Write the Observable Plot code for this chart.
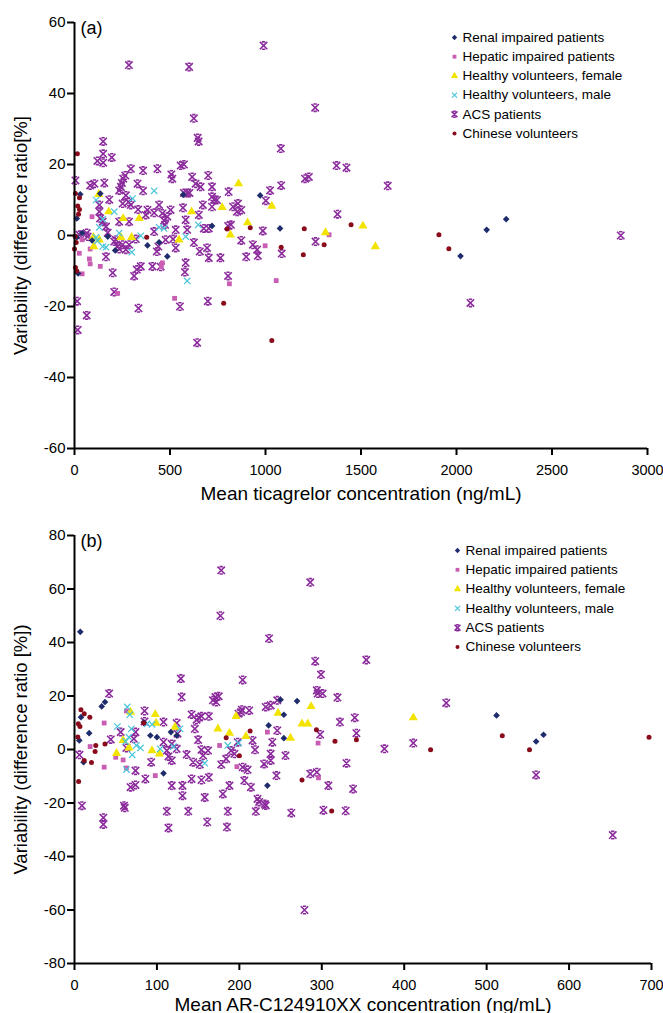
<!DOCTYPE html>
<html><head><meta charset="utf-8">
<script src="https://cdn.jsdelivr.net/npm/d3@7"></script>
<script src="https://cdn.jsdelivr.net/npm/@observablehq/plot@0.6"></script>
<style>body{margin:0;background:#fff;} #chart{width:663px;} svg{display:block;}</style>
</head><body><div id="chart"></div>
<script>
// ---------- Panel (a): mean ticagrelor concentration vs variability ----------
const renalA = [[30,11.6],[12,4.8],[40,0.7],[12,-0.5],[135,11.8],[174,-0.3],[92,-1.4],[213,-4.2],[382,-2.8],[443,-1.9],[486,-5.9],[720,2.7],[972,11.3],[1076,2],[569,11.5],[19,-10.7],[2021,-5.8],[2158,1.6],[2260,4.6]];
const hepaticA = [[92,5.3],[82,-3.8],[78,-6.6],[82,-8],[40,-10.8],[40,-1.2],[135,-8.7],[226,-16.3],[460,-7.7],[455,-8.8],[524,-17.7],[811,-13.6],[1056,-12.7],[1333,0.2],[998,-2.9],[25,-5]];
const femaleA = [[127,11.6],[179,6.7],[255,4.8],[339,4.8],[99,-0.5],[101,-3.1],[130,-1.2],[243,-0.5],[299,-0.5],[547,-1.2],[613,6.7],[773,7.9],[859,14.6],[816,0.2],[906,3.6],[1033,8.3],[1314,0.8],[1510,2.7],[1575,-3.1]];
const maleA = [[113,10],[130,2.3],[208,6.7],[148,4.6],[113,-0.5],[148,-3.1],[165,-3.3],[234,0.7],[300,-4.7],[304,10.4],[347,-0.1],[417,12.6],[443,2.3],[469,2],[582,-0.3],[648,3],[590,-12.8],[120,-1.5]];
const acsA = [[285,48],[600,47.5],[990,53.5],[625,33],[645,27.5],[650,26.5],[1260,36],[1080,24.5],[150,26.5],[120,21],[150,20.5],[150,23],[195,22],
[1227,16.5],[1207,16],[1372,19.7],[1424,19.1],[1640,14],[1377,6],[2860,0],[2073,-19],
[5,15.5],[82,14.1],[104,14.6],[156,14.8],[182,10.1],[130,8.6],[130,6.7],[134,4.8],[148,3.9],[165,2.5],[174,0.8],[64,0.7],[26,0.2],[69,-0.3],[165,-6],[200,-10.5],[208,-1.7],[217,-1.2],[226,-3.1],[252,-2.6],[234,-3.8],[269,-4],[286,-2.6],[208,-15.9],[335,-20.5],[312,-11.4],[326,-9.6],[347,-8.7],[408,-8.7],[451,-8.8],[431,-4.5],[439,-3.1],[477,-1.2],[516,-1],[530,-3.5],[582,-7.7],[578,-10.3],[552,-20],[625,-2],[656,-4.5],[703,-6.3],[694,-3.5],[764,-6.3],[804,-11.4],[819,3],[873,-1.4],[899,-6],[934,-2.6],[956,-4],[960,-5.7],[986,1.3],[1002,9.8],[1024,12.7],[1082,14.1],[1085,-5.1],[1262,-1.7],[698,-18.5],[14,-18.5],[17,-26.6],[64,-22.5],[642,-30.2],
[295,18.8],[255,16],[266,16.9],[248,14.8],[243,13.7],[234,12.7],[269,11.3],[283,9.5],[252,9],[295,8.6],[330,14.6],[359,18.3],[359,12.6],[382,7.2],[417,6.4],[443,8.6],[434,18.8],[460,6.2],[469,4.2],[474,3],[486,5.3],[503,7.2],[530,1.6],[507,17.2],[512,16],[556,19.7],[573,20],[573,12],[590,12],[602,12],[616,16.5],[634,14.6],[660,13.7],[700,16.9],[720,13.7],[720,10.9],[733,10.1],[746,10],[720,8.1],[672,8.6],[651,5.8],[677,2],[703,2],[568,7.8],[582,4.4],[590,1.6],[807,12.3],[830,8.1],[851,6.7],[873,7.2],[856,9],[804,2.7],[417,1.1],[373,5.8],[333,7.3],[234,3.9],[286,3.9],[321,-1]];
const chineseA = [[15,23],[5,11.8],[26,10.6],[17,8.3],[26,7.3],[21,6],[3.5,-0.3],[9,-2],[0,-3.8],[12,-10],[5,-9],[378,-0.5],[799,1.8],[920,2.2],[1203,1.9],[1082,-3.3],[1198,-5.4],[1307,-2.6],[1448,3],[1908,0.2],[1960,-3.7],[781,-19.1],[1033,-29.6]];

// ---------- Panel (b): mean AR-C124910XX concentration vs variability ----------
const renalB = [[7,44],[7.9,12.1],[5.8,3.4],[11,-4.75],[17.8,6.1],[33,16.1],[37,17.75],[84,10.2],[92,5.25],[100,4.6],[108,-8.9],[117,6.5],[124,5.25],[235.5,9],[234,-13.5],[250,18.6],[254,13],[254,4.25],[270,18.1],[512,12.75],[569,5.5],[560,3]];
const hepaticB = [[36,9.9],[63,14.4],[19,1.1],[36,-6.6],[50,-2.9],[59,-3.9],[63,-6.9],[98,-9.75],[234,6.5],[176,1.5],[197,-6.4],[295.5,2.4],[296,-10.6]];
const femaleB = [[51,-1.4],[59,3.4],[66,0.6],[68,14],[98,13.1],[99,9.9],[94,-0.4],[103,-1.6],[122,8.4],[174,7.75],[188,6.1],[196,12.4],[208,4.9],[247,13.6],[262,4.25],[276,9.6],[283,9.6],[287,16.1],[411,11.9]];
const maleB = [[52,8.6],[64,15.9],[67,13],[69,7.75],[62,3],[66,4.6],[70,-2],[75,1.5],[80,0.6],[88,9.6],[94,9.4],[104,0.25],[63,-7.5],[120,1.1],[128,7.75],[158,-5.1],[186,1.5],[199,2.4]];
const acsB = [[178,67],[177,50],[286,62.5],[236,41.5],[292,33],[354,33.5],[299,28],[129,26.5],[204,26],
[9,-21],[35,-25.5],[35,-28],[60,-21],[61,-21.8],[112,-23.1],[114,-29.3],[138,-23.1],[161,-27.1],[186,-23.1],[185,-29],[220,-23.1],[224,-19.6],[232,-20.9],[263,-23.7],[302,-22.7],[329,-22.9],[279,-60],[653,-32],
[42,20.9],[44,3.75],[56,6.5],[63,0.6],[72,4],[74,6.5],[85,14.4],[85,10.5],[74,-7.9],[68,-14.1],[74,-13.25],[86,-11],[93,-4.75],[108,10.25],[108,2.75],[112,-0.4],[114,-2.6],[118,2.1],[118,-4.1],[124,9.9],[125,5.9],[124,0.25],[130,19.6],[131,-13.5],[131,-17.25],[118,-13.5],[136,-1.9],[142,13.1],[144,-4.75],[146,7.75],[148,11.1],[151,11.9],[154,12.4],[152,-5.6],[150,3.6],[154,-0.1],[156,-2.25],[163,12.4],[162,-0.4],[142,-11],[154,-11.4],[158,-17.9],[163,-10.4],[168,18.4],[171,19.6],[175,19.9],[172,17.75],[178,-5.6],[180,-16.6],[184,-3.5],[188,-13.5],[190,-0.4],[194,-1.6],[198,2.75],[199,13.4],[202,14],[203,14.9],[204,-6.6],[206,-11.6],[210,-7.6],[212,14.6],[214,-14.1],[216,3.4],[219,-0.1],[222,-18.5],[230,-5.4],[231,-20.4],[232,15.9],[238,16.5],[238,-1.6],[238,-4.1],[240,2.75],[245,-9.75],[246,18.4],[246,7.1],[256,-2.25],[286,-9.1],[294,22.1],[295,20.9],[301,20.9],[298,5.6],[308,-13.5],[294,-8.5],[319,19.4],[322,10.25],[330,-5.1],[338,-14.75],[340,11.9],[342,6.1],[6,-2],
[451,17.4],[376,0.25],[411,2.4],[560,-9.5]];
const chineseB = [[4.6,9.6],[7.8,14.9],[11.8,13.4],[6.6,8.6],[18.6,12.1],[25.8,1.5],[25,-0.75],[20.6,-4.9],[11.8,-4.1],[5,-12],[4,4.7],[37,2.1],[84,9.9],[184,4.4],[200,-2.3],[213,6.9],[276,-11.4],[293.5,7.4],[316,3.1],[342,3.6],[312,-23],[432,-0.1],[519,5.1],[552,-0.1],[697,4.6]];

// ---------- Labels / ticks ----------
const seriesNames = ["Renal impaired patients","Hepatic impaired patients","Healthy volunteers, female","Healthy volunteers, male","ACS patients","Chinese volunteers"];
const xTicksA = [0,500,1000,1500,2000,2500,3000];
const yTicksA = [-60,-40,-20,0,20,40,60];
const xTicksB = [0,100,200,300,400,500,600,700];
const yTicksB = [-80,-60,-40,-20,0,20,40,60,80];

// ---------- Styles ----------
const colors = ["#1f2c6c","#c95db3","#f2e300","#49c5da","#8b2a9c","#8a0c1c"];
const acsSymbol = {
  draw(ctx, size) {
    const r = Math.sqrt(size / Math.PI);
    ctx.moveTo(-r, -r); ctx.lineTo(r, r);
    ctx.moveTo(-r, r); ctx.lineTo(r, -r);
    ctx.moveTo(-r * 0.45, -r); ctx.lineTo(r * 0.45, -r);
    ctx.moveTo(-r * 0.45, r); ctx.lineTo(r * 0.45, r);
  }
};
const symbols = ["diamond2","square","triangle","times",acsSymbol,"circle"];
const radii = [3.0, 2.7, 3.4, 3.0, 3.7, 2.5];
const filled = [true, true, true, false, false, true];
const FONT = "'Liberation Sans', Arial, Helvetica, sans-serif";

function dotOpts(i, extra) {
  const o = Object.assign({symbol: symbols[i], r: radii[i]}, extra);
  if (filled[i]) { o.fill = colors[i]; o.stroke = "none"; }
  else { o.fill = "none"; o.stroke = colors[i]; o.strokeWidth = i === 4 ? 1.6 : 1.2; }
  return o;
}

function makePanel(cfg) {
  const marks = [];
  const order = [4, 1, 2, 3, 0, 5];
  for (const i of order) {
    marks.push(Plot.dot(cfg.series[i], dotOpts(i, {x: d => d[0], y: d => d[1]})));
  }
  marks.push(Plot.ruleX([cfg.xDomain[0]], {stroke: "#000", strokeWidth: 2}));
  marks.push(Plot.ruleY([cfg.yDomain[0]], {stroke: "#000", strokeWidth: 2}));
  marks.push(Plot.axisX(cfg.xTicks, {tickSize: 7, tickPadding: 9, strokeWidth: 2, fontSize: 14.5, label: null, tickFormat: d => String(d)}));
  marks.push(Plot.axisY(cfg.yTicks, {tickSize: 7, tickPadding: 2, strokeWidth: 2, fontSize: 15, label: null, tickFormat: d => String(d)}));
  marks.push(Plot.text([cfg.xLabel], {frameAnchor: "bottom", dy: cfg.titleDy, fontSize: 19, text: d => d, textAnchor: "middle", lineAnchor: "middle"}));
  marks.push(Plot.text([cfg.yLabel], {frameAnchor: "left", dx: -53, rotate: -90, fontSize: 18.5, text: d => d, textAnchor: "middle", lineAnchor: "middle"}));
  marks.push(Plot.text([cfg.tag], {frameAnchor: "top-left", dx: 6, dy: 6, fontSize: 18, text: d => d, textAnchor: "start", lineAnchor: "middle"}));
  seriesNames.forEach((name, i) => {
    const dy = cfg.legendDy + i * cfg.legendStep;
    marks.push(Plot.dot([name], dotOpts(i, {frameAnchor: "top-left", dx: cfg.legendDx, dy, r: radii[i] * 0.8})));
    marks.push(Plot.text([name], {frameAnchor: "top-left", dx: cfg.legendDx + 8, dy, text: d => d, textAnchor: "start", lineAnchor: "middle", fontSize: 13.5}));
  });
  return Plot.plot({
    width: 663, height: cfg.height,
    marginLeft: 74, marginRight: cfg.mr, marginTop: cfg.mt, marginBottom: cfg.mb,
    x: {domain: cfg.xDomain}, y: {domain: cfg.yDomain},
    style: {fontFamily: FONT, color: "#000", background: "#fff", overflow: "visible"},
    marks
  });
}

const panelA = makePanel({
  series: [renalA, hepaticA, femaleA, maleA, acsA, chineseA],
  xDomain: [0, 3000], yDomain: [-60, 60], xTicks: xTicksA, yTicks: yTicksA,
  xLabel: "Mean ticagrelor concentration (ng/mL)", yLabel: "Variability (difference ratio[%]", tag: "(a)",
  height: 510, mt: 22, mb: 62, mr: 16, titleDy: 45, legendDx: 380, legendDy: 15, legendStep: 19.2
});
const panelB = makePanel({
  series: [renalB, hepaticB, femaleB, maleB, acsB, chineseB],
  xDomain: [0, 700], yDomain: [-80, 80], xTicks: xTicksB, yTicks: yTicksB,
  xLabel: "Mean AR-C124910XX concentration (ng/mL)", yLabel: "Variability (difference ratio [%])", tag: "(b)",
  height: 503, mt: 25, mb: 50, mr: 12, titleDy: 41, legendDx: 383, legendDy: 15, legendStep: 19.3
});
document.getElementById("chart").append(panelA, panelB);
</script>
</body></html>
